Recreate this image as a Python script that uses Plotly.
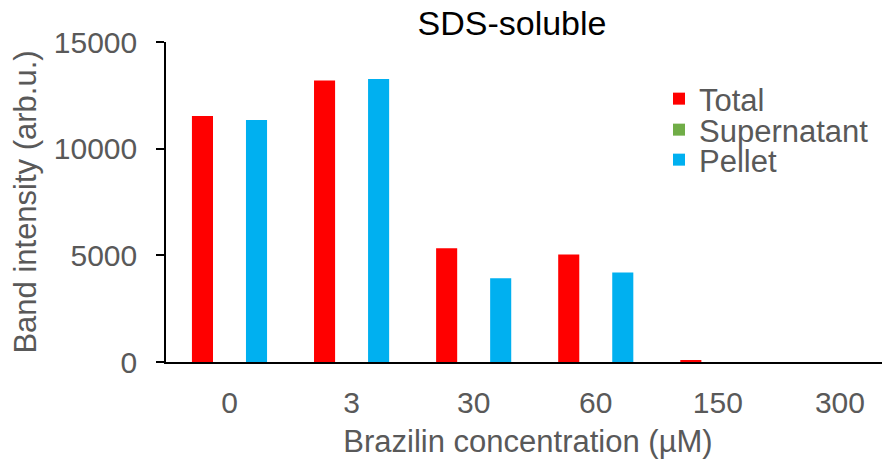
import plotly.graph_objects as go

categories = ["0", "3", "30", "60", "150", "300"]
total = [11530, 13200, 5330, 5040, 60, 0]
supernatant = [0, 0, 0, 0, 0, 0]
pellet = [11340, 13260, 3920, 4200, 0, 0]
y_ticks = [0, 5000, 10000, 15000]
y_tick_text = ["0", "5000", "10000", "15000"]

FONT = "Liberation Sans, Arial, sans-serif"
GRAY = "#595959"

# page body has an 8px default margin; figure is sized to fit the window
OFF = 8
W, H = 890 - OFF, 464 - OFF

fig = go.Figure()
fig.add_trace(go.Bar(name="Total", x=categories, y=total, marker_color="#FF0000",
                     marker_line_width=0, legend="legend", showlegend=True))
fig.add_trace(go.Bar(name="Supernatant", x=categories, y=supernatant, marker_color="#70AD47",
                     marker_line_width=0, legend="legend2", showlegend=True))
fig.add_trace(go.Bar(name="Pellet", x=categories, y=pellet, marker_color="#00B0F0",
                     marker_line_width=0, legend="legend3", showlegend=True))

PLOT_L, PLOT_T = 166 - OFF, 42 - OFF
PLOT_W, PLOT_H = W - PLOT_L, 320


def px(x):
    return (x - OFF - PLOT_L) / PLOT_W


def py(y):
    return (PLOT_T + PLOT_H - (y - OFF)) / PLOT_H


leg_common = dict(xanchor="left", yanchor="middle",
                  font=dict(family=FONT, size=31, color=GRAY), bgcolor="rgba(0,0,0,0)",
                  borderwidth=0)

fig.update_layout(
    width=W, height=H, showlegend=True,
    margin=dict(l=PLOT_L, r=0, t=PLOT_T, b=H - PLOT_T - PLOT_H, autoexpand=False),
    paper_bgcolor="white", plot_bgcolor="white",
    barmode="group", bargap=0.336, bargroupgap=0.22,
    title=dict(text="SDS-soluble", x=(512 - OFF) / W, xanchor="center", xref="container",
               y=1 - (23 - OFF) / H, yanchor="middle", yref="container",
               font=dict(family=FONT, size=34, color="black")),
    legend=dict(x=px(659), y=py(99), **leg_common),
    legend2=dict(x=px(659), y=py(130), **leg_common),
    legend3=dict(x=px(659), y=py(160), **leg_common),
    xaxis=dict(type="category", range=[-0.52, 5.41], showline=True, linecolor="black",
               linewidth=1.5, ticks="", showgrid=False, zeroline=False,
               tickfont=dict(family=FONT, size=30, color=GRAY), ticklabelstandoff=13,
               title=dict(text="Brazilin concentration (µM)", standoff=13,
                          font=dict(family=FONT, size=31, color=GRAY))),
    yaxis=dict(range=[0, 15000], tickvals=y_ticks, ticktext=y_tick_text, showline=True,
               linecolor="black", linewidth=1.5, ticks="outside", ticklen=8, tickwidth=1.5,
               tickcolor="black", showgrid=False, zeroline=False,
               tickfont=dict(family=FONT, size=30, color=GRAY), ticklabelstandoff=13,
               title=dict(text="Band intensity (arb.u.)", standoff=11,
                          font=dict(family=FONT, size=31, color=GRAY))),
)

fig.write_html("out.html")
